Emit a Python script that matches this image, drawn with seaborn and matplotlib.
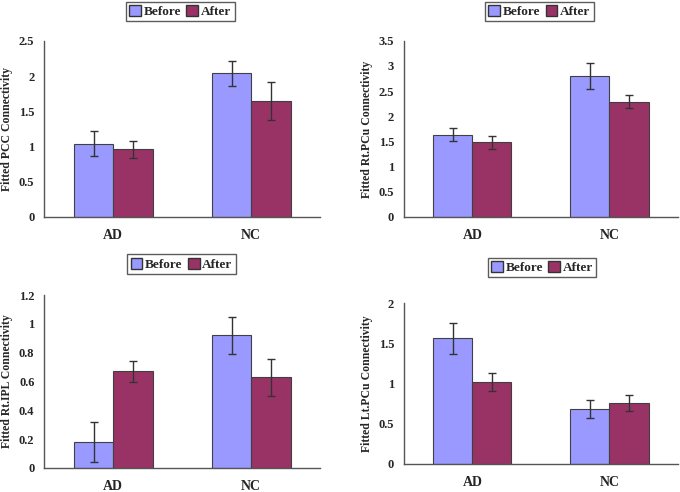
import pandas as pd
import numpy as np
import matplotlib.pyplot as plt
import seaborn as sns

# --- dados ---
grupos = ["AD", "NC"]
condicoes = ["Before", "After"]

pcc_media = {"Before": [1.04, 2.04], "After": [0.96, 1.65]}
pcc_erro = {"Before": [0.18, 0.18], "After": [0.12, 0.27]}

rtpcu_media = {"Before": [1.63, 2.80], "After": [1.48, 2.29]}
rtpcu_erro = {"Before": [0.13, 0.25], "After": [0.13, 0.13]}

rtipl_media = {"Before": [0.18, 0.92], "After": [0.67, 0.63]}
rtipl_erro = {"Before": [0.14, 0.13], "After": [0.07, 0.13]}

ltpcu_media = {"Before": [1.56, 0.68], "After": [1.02, 0.76]}
ltpcu_erro = {"Before": [0.19, 0.11], "After": [0.11, 0.10]}

CORES = {"Before": "#9999FF", "After": "#993366"}

sns.set_theme(style="white")
plt.rcParams["font.family"] = ["Liberation Serif", "DejaVu Serif"]
plt.rcParams["font.weight"] = "bold"

fig = plt.figure(figsize=(6.8, 4.92), dpi=100)

paineis = [
    # media, erro, ylabel, ymax, passo, [l, b, w, h], legenda (x, y)
    (pcc_media, pcc_erro, "Fitted PCC Connectivity", 2.5, 0.5,
     [0.065, 0.559, 0.406, 0.358], (0.265, 0.977)),
    (rtpcu_media, rtpcu_erro, "Fitted Rt.PCu Connectivity", 3.5, 0.5,
     [0.594, 0.559, 0.403, 0.358], (0.793, 0.977)),
    (rtipl_media, rtipl_erro, "Fitted Rt.IPL Connectivity", 1.2, 0.2,
     [0.065, 0.049, 0.406, 0.351], (0.267, 0.463)),
    (ltpcu_media, ltpcu_erro, "Fitted Lt.PCu Connectivity", 2.0, 0.5,
     [0.594, 0.057, 0.403, 0.327], (0.797, 0.456)),
]

for media, erro, ylabel, ymax, passo, pos, leg in paineis:
    ax = fig.add_axes(pos)
    df = pd.DataFrame({
        "Grupo": grupos * 2,
        "Cond": ["Before"] * 2 + ["After"] * 2,
        "Valor": media["Before"] + media["After"],
    })
    sns.barplot(data=df, x="Grupo", y="Valor", hue="Cond", hue_order=condicoes,
                palette=CORES, width=0.57, errorbar=None, edgecolor="#404040",
                linewidth=0.8, saturation=1, ax=ax)

    # barras de erro nas posições das barras
    for cont, cond in zip(ax.containers, condicoes):
        xs = [b.get_x() + b.get_width() / 2 for b in cont]
        ys = [b.get_height() for b in cont]
        ax.errorbar(xs, ys, yerr=erro[cond], fmt="none", ecolor="#333333",
                    elinewidth=1.0, capsize=3, capthick=1.0)

    ax.set_xlim(-0.5, 1.5)
    ax.set_ylim(0, ymax)
    ticks_y = np.arange(0, ymax + passo / 2, passo)
    ax.set_yticks(ticks_y)
    ax.set_yticklabels([f"{v:g}" for v in ticks_y])
    ax.set_xticks([0, 1])
    ax.set_xticklabels(grupos)
    ax.set_xticks([-0.5, 0.5, 1.5], minor=True)
    ax.tick_params(axis="x", which="major", length=0, pad=9, labelsize=10)
    ax.tick_params(axis="x", which="minor", length=4, direction="out", color="#555555")
    ax.tick_params(axis="y", length=4, direction="out", color="#555555",
                   labelsize=9, pad=3)
    ax.set_xlabel("")
    ax.set_ylabel(ylabel, fontsize=8.5, fontweight="bold", labelpad=4)
    for lado in ["top", "right"]:
        ax.spines[lado].set_visible(False)
    for lado in ["left", "bottom"]:
        ax.spines[lado].set_color("#555555")
        ax.spines[lado].set_linewidth(1.0)

    ax.get_legend().remove()
    handles = [plt.Rectangle((0, 0), 1, 1, facecolor=CORES[c], edgecolor="#333333")
               for c in condicoes]
    lg = ax.legend(handles, condicoes, loc="center", bbox_to_anchor=leg,
                   bbox_transform=fig.transFigure, ncol=2, frameon=True,
                   fancybox=False, edgecolor="#333333", fontsize=9.5,
                   handlelength=0.9, handleheight=0.9, handletextpad=0.2,
                   columnspacing=0.4, borderpad=0.25)
    lg.get_frame().set_linewidth(1.0)

fig.savefig("out.png", dpi=100)
